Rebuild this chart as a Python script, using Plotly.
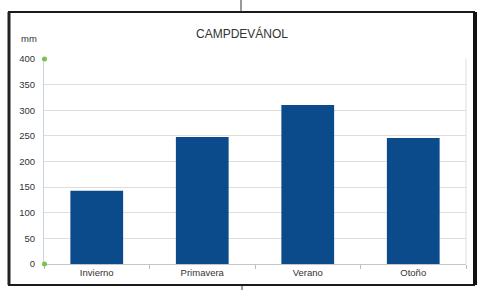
import plotly.graph_objects as go

categories = ["Invierno", "Primavera", "Verano", "Otoño"]
precip_mm = [143, 248, 310, 246]
y_ticks = [0, 50, 100, 150, 200, 250, 300, 350, 400]

W, H = 478, 290
L, R, T, B = 44, 12, 59, 26
pw, ph = W - L - R, H - T - B

def px(x):
    return (x - L) / pw

def py(y):
    return (H - B - y) / ph

fig = go.Figure(go.Bar(
    x=categories, y=precip_mm,
    marker=dict(color="#0b4a8b", line=dict(width=0)),
))

shapes = [
    # outer frame
    dict(type="rect", xref="paper", yref="paper", x0=px(9), x1=px(474), y0=py(285), y1=py(12),
         line=dict(color="#1a1a1a", width=2), layer="above"),
    dict(type="line", xref="paper", yref="paper", x0=px(475), x1=px(475), y0=py(285), y1=py(12),
         line=dict(color="#111111", width=4)),
    dict(type="line", xref="paper", yref="paper", x0=px(9), x1=px(9), y0=py(285), y1=py(12),
         line=dict(color="#222222", width=3)),
    # small top/bottom marks
    dict(type="line", xref="paper", yref="paper", x0=px(241), x1=px(241), y0=py(0), y1=py(12),
         line=dict(color="#333333", width=1)),
    dict(type="line", xref="paper", yref="paper", x0=px(242), x1=px(242), y0=py(286), y1=py(290),
         line=dict(color="#333333", width=1)),
    # green handles
    dict(type="circle", xref="paper", yref="paper", x0=px(42), x1=px(47), y0=py(61.5), y1=py(56.5),
         fillcolor="#7cc24a", line=dict(width=0), layer="above"),
    dict(type="circle", xref="paper", yref="paper", x0=px(42), x1=px(47), y0=py(266.5), y1=py(261.5),
         fillcolor="#7cc24a", line=dict(width=0), layer="above"),
]

fig.update_layout(
    width=W, height=H,
    margin=dict(l=L, r=R, t=T, b=B),
    paper_bgcolor="white", plot_bgcolor="white",
    bargap=0.5,
    showlegend=False,
    font=dict(family="Liberation Sans, Arial, sans-serif", size=9.5, color="#333333"),
    shapes=shapes,
    annotations=[
        dict(text="CAMPDEVÁNOL", xref="paper", yref="paper", x=px(242), y=py(34),
             showarrow=False, font=dict(size=12, color="#333333"), xanchor="center", yanchor="middle"),
        dict(text="mm", xref="paper", yref="paper", x=px(29), y=py(39),
             showarrow=False, font=dict(size=9.5, color="#333333"), xanchor="center", yanchor="middle"),
    ],
)
fig.update_yaxes(
    range=[0, 400], tickvals=y_ticks, ticktext=[str(v) for v in y_ticks],
    showgrid=True, gridcolor="#e2ddd8", gridwidth=1,
    showline=True, linecolor="#c8d4e0", linewidth=1,
    zeroline=False, ticks="", ticklabelstandoff=6,
    fixedrange=True,
)
fig.update_xaxes(
    showline=True, linecolor="#c8c4c0", linewidth=1, mirror=False,
    ticks="outside", tickson="boundaries", ticklen=4, tickcolor="#bbbbbb",
    showgrid=False, fixedrange=True,
)
fig.add_shape(type="line", xref="paper", yref="paper", x0=1, x1=1, y0=0, y1=1,
              line=dict(color="#e2ddd8", width=1))

fig.write_html(
    "out.html",
    config={"displayModeBar": False},
    post_script="document.body.style.margin='0';document.body.style.overflow='hidden';",
)
